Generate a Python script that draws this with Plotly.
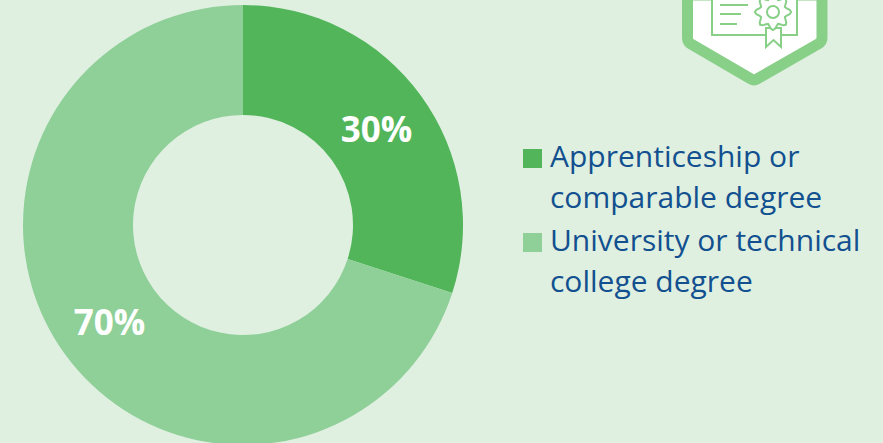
import math
import plotly.graph_objects as go

categories = ["Apprenticeship or<br>comparable degree", "University or technical<br>college degree"]
values = [30, 70]
colors = ["#52B55A", "#8FCF98"]
BG = "#DFF0E1"
BADGE = "#88CF88"
TEXT = "#12508F"
W, H = 883, 445


def px(x):
    return x / W


def py(y):
    return 1 - y / H


def path(cmds):
    out = []
    for c in cmds:
        out.append(c[0] + " ".join(f"{px(c[i]):.5f},{py(c[i+1]):.5f}" for i in range(1, len(c), 2)))
    return " ".join(out)


fig = go.Figure(go.Pie(
    labels=categories, values=values, hole=0.5, sort=False, direction="clockwise", rotation=0,
    marker=dict(colors=colors, line=dict(width=0)),
    textinfo="percent", texttemplate="%{percent:.0%}", textposition="inside",
    insidetextorientation="horizontal",
    textfont=dict(family="Open Sans", size=35, color="white", weight=700),
    domain=dict(x=[23 / W, 463 / W], y=[0, 440 / H]),
    showlegend=False,
))

shapes = []
annotations = []
# legend
for (y0, col, txt) in [(149, colors[0], categories[0]), (233, colors[1], categories[1])]:
    shapes.append(dict(type="rect", xref="paper", yref="paper", x0=px(523), x1=px(542),
                       y0=py(y0), y1=py(y0 + 19), fillcolor=col, line_width=0))
    l1, l2 = txt.split("<br>")
    for k, t in enumerate((l1, l2)):
        annotations.append(dict(text=t, xref="paper", yref="paper", x=px(547.6),
                                y=py(y0 + 6.2 + k * 41.5), xanchor="left", yanchor="middle",
                                showarrow=False, align="left",
                                font=dict(family="Open Sans", size=30, color=TEXT)))

# badge
shapes.append(dict(type="path", xref="paper", yref="paper", fillcolor="white",
                   line=dict(color=BADGE, width=11),
                   path=path([("M", 687.5, -5), ("L", 687.5, 38), ("Q", 687.5, 42, 691, 44),
                              ("L", 751, 79), ("Q", 754, 81, 757, 79), ("L", 818, 44),
                              ("Q", 822, 42, 822, 38), ("L", 822, -5), ("Z",)])))
IC = dict(color=BADGE, width=2)
shapes.append(dict(type="rect", xref="paper", yref="paper", x0=px(712), x1=px(797),
                   y0=py(-5), y1=py(35), line=IC, fillcolor="white"))
for yy, x1 in [(5, 748), (14, 741), (24, 737)]:
    shapes.append(dict(type="line", xref="paper", yref="paper", x0=px(720), x1=px(x1),
                       y0=py(yy), y1=py(yy), line=dict(color=BADGE, width=2)))
shapes.append(dict(type="path", xref="paper", yref="paper", fillcolor="white", line=IC,
                   path=path([("M", 766, 28), ("L", 766, 47), ("L", 773.5, 40), ("L", 781, 47),
                              ("L", 781, 28), ("Z",)])))
gear = []
for i in range(48):
    a = 2 * math.pi * i / 48
    r = 15.5 + 2.6 * math.cos(8 * a)
    gear.append(("M" if i == 0 else "L", 773 + r * math.sin(a), 12 - r * math.cos(a)))
gear.append(("Z",))
shapes.append(dict(type="path", xref="paper", yref="paper", fillcolor="white", line=IC, path=path(gear)))
shapes.append(dict(type="circle", xref="paper", yref="paper", x0=px(767), x1=px(779),
                   y0=py(6), y1=py(18), line=IC, fillcolor="white"))

fig.update_layout(width=W, height=H, margin=dict(l=0, r=0, t=0, b=0), paper_bgcolor=BG,
                  plot_bgcolor=BG, shapes=shapes, annotations=annotations, showlegend=False)
fig.write_html("out.html", config=dict(displayModeBar=False), post_script=(
    "document.body.style.margin='0';document.body.style.overflow='hidden';"
    "document.documentElement.style.overflow='hidden';"
    "document.documentElement.style.background='" + BG + "';"
))
